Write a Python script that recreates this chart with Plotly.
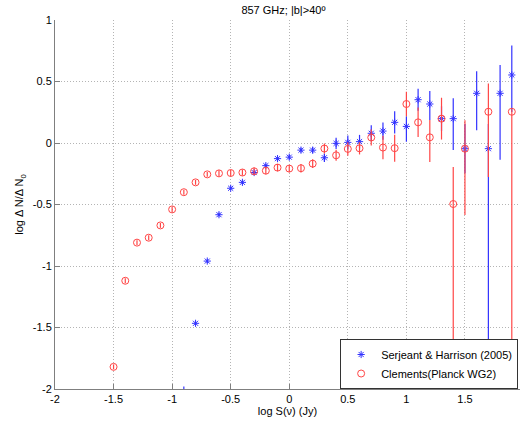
import plotly.graph_objects as go

# Serjeant & Harrison (2005)
sh_x = [-0.9, -0.8, -0.7, -0.6, -0.5, -0.4, -0.3, -0.2, -0.1, 0.0,
        0.1, 0.2, 0.3, 0.4, 0.5, 0.6, 0.7, 0.8, 0.9, 1.0,
        1.1, 1.2, 1.3, 1.4, 1.5, 1.6, 1.7, 1.8, 1.9]
sh_y = [-2.3, -1.466, -0.96, -0.583, -0.368, -0.32, -0.24, -0.184, -0.127, -0.115,
        -0.058, -0.058, -0.12, -0.003, 0.005, 0.011, 0.079, 0.097, 0.168, 0.135,
        0.352, 0.317, 0.198, 0.198, -0.046, 0.404, -0.046, 0.404, 0.553]
sh_err_plus = [0.32, 0.015, 0.015, 0.015, 0.015, 0.015, 0.015, 0.015, 0.015, 0.02,
               0.02, 0.025, 0.035, 0.045, 0.055, 0.055, 0.065, 0.07, 0.09, 0.08,
               0.09, 0.106, 0.1, 0.165, 0.2, 0.18, 0.2, 0.23, 0.24]
sh_err_minus = [0.3, 0.015, 0.015, 0.015, 0.015, 0.015, 0.015, 0.015, 0.015, 0.02,
                0.02, 0.025, 0.035, 0.045, 0.055, 0.055, 0.065, 0.07, 0.09, 0.125,
                0.09, 0.13, 0.1, 0.255, 0.2, 0.3, 2.5, 0.54, 0.3]

# Clements (Planck WG2)
cl_x = [-1.5, -1.4, -1.3, -1.2, -1.1, -1.0, -0.9, -0.8, -0.7, -0.6,
        -0.5, -0.4, -0.3, -0.2, -0.1, 0.0, 0.1, 0.2, 0.3, 0.4,
        0.5, 0.6, 0.7, 0.8, 0.9, 1.0, 1.1, 1.2, 1.3, 1.4,
        1.5, 1.7, 1.9]
cl_y = [-1.82, -1.12, -0.81, -0.77, -0.67, -0.54, -0.40, -0.32, -0.255, -0.247,
        -0.244, -0.24, -0.23, -0.225, -0.20, -0.208, -0.205, -0.168, -0.045, -0.10,
        -0.048, -0.043, 0.045, -0.037, -0.042, 0.317, 0.168, 0.046, 0.198, -0.496,
        -0.046, 0.254, 0.254]
cl_err_plus = [0.02, 0.02, 0.02, 0.02, 0.02, 0.02, 0.02, 0.02, 0.02, 0.025,
               0.025, 0.025, 0.03, 0.03, 0.03, 0.03, 0.035, 0.035, 0.04, 0.045,
               0.055, 0.05, 0.065, 0.095, 0.11, 0.1, 0.12, 0.14, 0.17, 0.30,
               0.23, 0.23, 0.02]
cl_err_minus = [0.02, 0.02, 0.02, 0.02, 0.02, 0.02, 0.02, 0.02, 0.02, 0.025,
                0.025, 0.025, 0.03, 0.03, 0.03, 0.03, 0.035, 0.035, 0.04, 0.045,
                0.055, 0.05, 0.065, 0.095, 0.11, 0.1, 0.12, 0.2, 0.17, 2.0,
                0.54, 0.53, 2.5]

x_ticks = [-2, -1.5, -1, -0.5, 0, 0.5, 1, 1.5]
y_ticks = [-2, -1.5, -1, -0.5, 0, 0.5, 1]

BLUE = "rgb(50,50,255)"
RED = "rgb(255,70,70)"
FONT = "Liberation Sans, Arial"

fig = go.Figure()
fig.add_trace(go.Scatter(
    x=sh_x, y=sh_y, mode="markers", name="Serjeant & Harrison (2005)",
    legendrank=1,
    marker=dict(symbol="asterisk-open", size=6, color=BLUE,
                line=dict(color=BLUE, width=1)),
    error_y=dict(type="data", symmetric=False, array=sh_err_plus,
                 arrayminus=sh_err_minus, color=BLUE, thickness=1.2, width=0),
))
fig.add_trace(go.Scatter(
    x=cl_x, y=cl_y, mode="markers", name="Clements(Planck WG2)",
    legendrank=2,
    marker=dict(symbol="circle-open", size=7, color=RED,
                line=dict(color=RED, width=1)),
    error_y=dict(type="data", symmetric=False, array=cl_err_plus,
                 arrayminus=cl_err_minus, color=RED, thickness=1.2, width=0),
))

axis_common = dict(
    showline=True, linecolor="#7f7f7f", linewidth=1,
    ticks="inside", ticklen=5, tickcolor="#7f7f7f",
    showgrid=True, gridcolor="#b4b4b4", griddash="1px,2px", gridwidth=1,
    zeroline=False, mirror=False,
    tickfont=dict(family=FONT, size=11, color="black"),
)

fig.update_xaxes(range=[-2, 1.97], tickmode="array", tickvals=x_ticks,
                 ticktext=[f"{v:g}" for v in x_ticks],
                 title=dict(text="log S(ν) (Jy)", standoff=0,
                            font=dict(family=FONT, size=11, color="black")),
                 **axis_common)
fig.update_yaxes(range=[-2, 1], tickmode="array", tickvals=y_ticks,
                 ticktext=[f"{v:g}" for v in y_ticks],
                 title=dict(text="log Δ N/Δ N<sub>0</sub>", standoff=6,
                            font=dict(family=FONT, size=11, color="black")),
                 **axis_common)

fig.update_layout(
    width=520, height=425,
    margin=dict(l=55, r=0, t=20, b=36),
    paper_bgcolor="white", plot_bgcolor="white",
    title=dict(text="857 GHz; |b|>40º", x=0.545, xanchor="center", y=0.985, yanchor="top",
               font=dict(family=FONT, size=11, color="black")),
    showlegend=True,
    legend=dict(x=0.996, y=0.0, xanchor="right", yanchor="bottom",
                bgcolor="white", bordercolor="#333333", borderwidth=1,
                font=dict(family=FONT, size=11, color="black"),
                tracegroupgap=0),
)

fig.write_html(
    "out.html",
    config={"displayModeBar": False},
    post_script="document.body.style.margin='0';document.body.style.overflow='hidden';",
)
